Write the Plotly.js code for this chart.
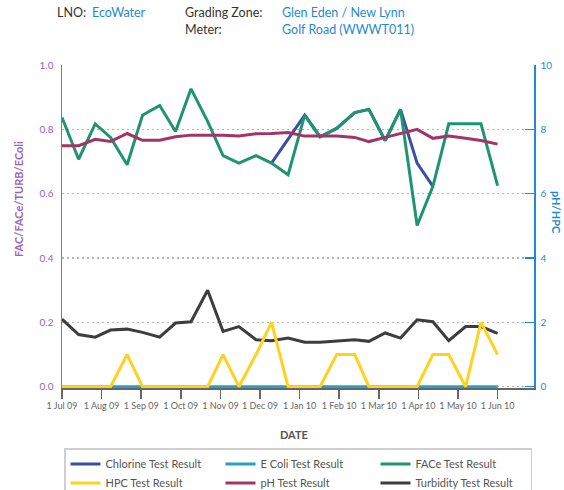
<!DOCTYPE html>
<html><head><meta charset="utf-8">
<script src="https://cdn.plot.ly/plotly-3.0.1.min.js"></script>
<style>html,body{margin:0;padding:0;background:#fff}#chart{width:564px;height:490px}</style>
</head><body><div id="chart"></div>
<script>
// ---- data ----
const monthLabels = ["1 Jul 09","1 Aug 09","1 Sep 09","1 Oct 09","1 Nov 09","1 Dec 09","1 Jan 10","1 Feb 10","1 Mar 10","1 Apr 10","1 May 10","1 Jun 10"];
const sampleDates = ["2009-07-01","2009-07-14","2009-07-27","2009-08-08","2009-08-21","2009-09-02","2009-09-15","2009-09-27","2009-10-09","2009-10-22","2009-11-03","2009-11-15","2009-11-28","2009-12-10","2009-12-23","2010-01-05","2010-01-17","2010-01-30","2010-02-12","2010-02-22","2010-03-06","2010-03-18","2010-03-31","2010-04-12","2010-04-24","2010-05-07","2010-05-19","2010-06-01"];
const chlorine = [null,null,null,null,null,null,null,null,null,null,null,null,null,0.695,null,0.844,0.777,0.803,0.852,0.862,0.765,0.862,0.695,0.623,null,null,null,null];
const eColi = [0,0,0,0,0,0,0,0,0,0,0,0,0,0,0,0,0,0,0,0,0,0,0,0,0,0,0,0];
const face = [0.837,0.707,0.817,0.775,0.690,0.844,0.874,0.793,0.926,0.825,0.718,0.695,0.718,0.695,0.659,0.844,0.777,0.803,0.852,0.862,0.765,0.862,0.501,0.623,0.817,0.817,0.817,0.625];
const hpc = [0,0,0,0,1,0,0,0,0,0,1,0,1,2,0,0,0,1,1,0,0,0,0,1,1,0,2,1];
const ph = [7.49,7.49,7.69,7.62,7.87,7.66,7.66,7.77,7.82,7.82,7.82,7.79,7.86,7.87,7.90,7.79,7.79,7.79,7.75,7.62,7.75,7.88,8.00,7.72,7.79,7.72,7.65,7.54];
const turbidity = [0.210,0.162,0.154,0.176,0.179,0.169,0.154,0.198,0.202,0.300,0.172,0.187,0.146,0.143,0.151,0.138,0.138,0.141,0.146,0.141,0.167,0.151,0.208,0.202,0.143,0.187,0.187,0.166];

// month axis: each calendar month gets equal width
function monthPos(s){
  const [y,m,d] = s.split('-').map(Number);
  const dim = new Date(y, m, 0).getDate();
  return (y-2009)*12 + (m-7) + (d-1)/dim;
}
const xs = sampleDates.map(monthPos);

const FONT = "Lato, 'Open Sans', sans-serif";
const PURPLE = '#9a64bf', BLUE = '#1f8ad3', GREY = '#555';

function tr(name, y, color, axis, extra){
  return Object.assign({type:'scatter', mode:'lines', name:name, x:xs, y:y, yaxis:axis,
    line:{color:color, width:3}, hoverinfo:'x+y'}, extra||{});
}
const data = [
  tr('Chlorine Test Result', chlorine, '#3a4fa6', 'y', {connectgaps:true}),
  tr('E Coli Test Result', eColi, '#2a9fc0', 'y'),
  tr('FACe Test Result', face, '#1f9470', 'y'),
  tr('HPC Test Result', hpc, '#ffd21f', 'y2'),
  tr('pH Test Result', ph, '#a33468', 'y2'),
  tr('Turbidity Test Result', turbidity, '#3d3d3d', 'y')
];

// layout helpers: pixel -> paper
const L=62, R=534, T=65, B=388;
const px = v => (v-L)/(R-L);
const py = v => (B-v)/(B-T);

function ann(text, x, y, color, opts){
  return Object.assign({text:text, xref:'paper', yref:'paper', x:px(x), y:py(y), xanchor:'left', yanchor:'middle',
    showarrow:false, font:{family:FONT, size:12.5, color:color}}, opts||{});
}

const layout = {
  width:564, height:490,
  margin:{l:L, r:564-R, t:T, b:490-B, autoexpand:false},
  paper_bgcolor:'#fff', plot_bgcolor:'#fff',
  font:{family:FONT, color:GREY},
  showlegend:true,
  legend:{orientation:'h', x:px(64), y:py(448), xanchor:'left', yanchor:'top',
    bordercolor:'#cfcfcf', borderwidth:1.5, bgcolor:'#fff',
    entrywidth:110, entrywidthmode:'pixels', itemwidth:30,
    font:{family:FONT, size:11, color:GREY}, tracegroupgap:0},
  xaxis:{range:[0, (R-L)/39.6], tickvals:monthLabels.map((_,i)=>i), ticktext:monthLabels,
    showgrid:false, zeroline:false, showline:true, linecolor:'#666', linewidth:1.5,
    ticks:'outside', ticklen:9, tickwidth:1.5, tickcolor:'#666', layer:'below traces', tickangle:0,
    tickfont:{family:FONT, size:9, color:'#666'}, fixedrange:true, automargin:false},
  yaxis:{range:[-0.004,1.0], tickvals:[0,0.2,0.4,0.6,0.8,1.0], tickformat:'.1f', automargin:false,
    showgrid:true, gridcolor:'#b5b5b5', gridwidth:1.5, griddash:'2px,3px', zeroline:false,
    showline:true, linecolor:PURPLE, linewidth:1.5, ticks:'', ticklabelstandoff:5,
    tickfont:{family:FONT, size:10, color:PURPLE}, layer:'below traces'},
  yaxis2:{range:[-0.04,10], tickvals:[0,2,4,6,8,10], overlaying:'y', side:'right', automargin:false,
    showgrid:false, zeroline:false, showline:true, linecolor:BLUE, linewidth:1.5,
    ticks:'inside', ticklen:9, tickwidth:1.5, tickcolor:BLUE, ticklabelstandoff:3,
    tickfont:{family:FONT, size:10, color:BLUE}},
  annotations:[
    ann('LNO:', 55, 13, '#333'),
    ann('EcoWater', 90, 13, BLUE),
    ann('Grading Zone:', 183, 13, '#333'),
    ann('Glen Eden / New Lynn', 280, 13, BLUE),
    ann('Meter:', 183, 29, '#333'),
    ann('Golf Road (WWWT011)', 280, 29, BLUE),
    ann('<b>FAC/FACe/TURB/EColi</b>', 18, 199, PURPLE, {xanchor:'center', textangle:-90, font:{family:FONT, size:11, color:PURPLE}}),
    ann('<b>pH/HPC</b>', 557, 212, BLUE, {xanchor:'center', textangle:90, font:{family:FONT, size:11, color:BLUE}}),
    ann('<b>DATE</b>', 294, 435, GREY, {xanchor:'center', font:{family:FONT, size:11, color:GREY}})
  ]
};

Plotly.newPlot('chart', data, layout, {displayModeBar:false, staticPlot:true});
</script></body></html>
